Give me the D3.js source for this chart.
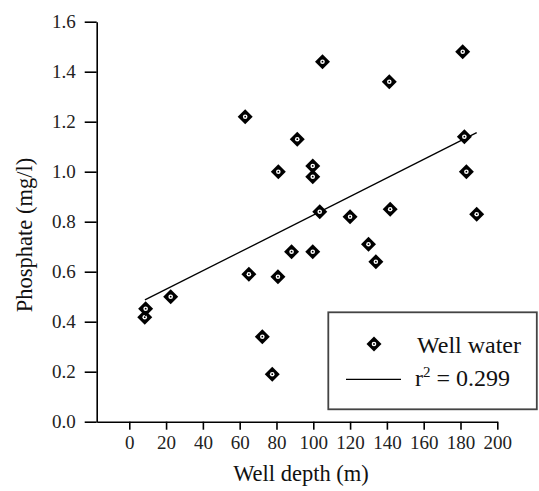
<!DOCTYPE html>
<html>
<head>
<meta charset="utf-8">
<script src="https://cdn.jsdelivr.net/npm/d3@7"></script>
<style>
  body { margin: 0; background: #fff; }
  svg text { font-family: "Liberation Serif", "Times New Roman", Times, "DejaVu Serif", serif !important; }
  .axis path, .axis line { stroke: #000; stroke-width: 1.6; }
  .axis text { font-size: 19px; fill: #222; }
</style>
</head>
<body>
<div id="chart"></div>
<script>
// well depth (m) and phosphate (mg/l)
var depth = [8.4, 8.9, 22.5, 63, 65, 72.3, 77.7, 81, 80.8, 88.2, 91.3, 99.7, 99.7, 99.7, 103.5, 105, 120, 130, 134, 141.3, 141.8, 181.2, 182.1, 183.2, 188.8]
var phosphate = [0.418, 0.452, 0.50, 1.22, 0.59, 0.34, 0.19, 1.00, 0.58, 0.68, 1.13, 1.023, 0.98, 0.68, 0.84, 1.44, 0.82, 0.71, 0.64, 1.36, 0.85, 1.48, 1.14, 1.00, 0.83]

// fitted line end points
var fitX = [8.5, 188.8]
var fitY = [0.487, 1.156]

var xTicks = [0, 20, 40, 60, 80, 100, 120, 140, 160, 180, 200]
var yTicks = [0, 0.2, 0.4, 0.6, 0.8, 1.0, 1.2, 1.4, 1.6]

var seriesName = "Well water"
var fitLabel = "0.299"

var serif = "'Liberation Serif', 'Times New Roman', Times, 'DejaVu Serif', serif"

var width = 539,
  height = 491

var svg = d3.select("#chart").append("svg")
  .attr("width", width)
  .attr("height", height)
  .attr("font-family", serif)

var x = d3.scaleLinear().domain([-17.7, 200]).range([96.7, 497.3])
var y = d3.scaleLinear().domain([0, 1.6]).range([421.7, 21.7])

// axes
svg.append("g")
  .attr("class", "axis")
  .attr("transform", "translate(0," + y(0) + ")")
  .call(d3.axisBottom(x).tickValues(xTicks).tickSize(8).tickSizeOuter(0).tickPadding(6).tickFormat(d3.format("d")))
  .attr("font-family", serif)

svg.append("g")
  .attr("class", "axis")
  .attr("transform", "translate(" + x.range()[0] + ",0)")
  .call(d3.axisLeft(y).tickValues(yTicks).tickSize(12).tickSizeOuter(0).tickPadding(9).tickFormat(d3.format(".1f")))
  .attr("font-family", serif)

// axis titles
svg.append("text")
  .attr("x", 301)
  .attr("y", 481)
  .attr("text-anchor", "middle")
  .style("font-size", "22.5px")
  .attr("fill", "#111")
  .text("Well depth (m)")

svg.append("text")
  .attr("transform", "translate(32,235) rotate(-90)")
  .attr("text-anchor", "middle")
  .style("font-size", "22.5px")
  .attr("fill", "#111")
  .text("Phosphate (mg/l)")

// regression line
svg.append("line")
  .attr("x1", x(fitX[0])).attr("y1", y(fitY[0]))
  .attr("x2", x(fitX[1])).attr("y2", y(fitY[1]))
  .attr("stroke", "#000")
  .attr("stroke-width", 1.3)

// marker = black diamond with white ring and dot
function marker(g) {
  g.append("path")
    .attr("d", "M0,-7.5L7.5,0L0,7.5L-7.5,0Z")
    .attr("fill", "#000")
  g.append("circle").attr("r", 2.3).attr("fill", "#fff")
  g.append("circle").attr("r", 0.9).attr("fill", "#000")
}

var points = svg.append("g")
  .selectAll("g")
  .data(depth.map(function(d, i) { return [d, phosphate[i]] }))
  .enter().append("g")
  .attr("transform", function(d) { return "translate(" + x(d[0]) + "," + y(d[1]) + ")" })

points.each(function() { marker(d3.select(this)) })

// legend
var legend = svg.append("g")

legend.append("rect")
  .attr("x", 328.3).attr("y", 312.3)
  .attr("width", 208.5).attr("height", 97)
  .attr("fill", "#fff")
  .attr("stroke", "#444")
  .attr("stroke-width", 1.8)

marker(legend.append("g").attr("transform", "translate(374,344)"))

legend.append("text")
  .attr("x", 417).attr("y", 353)
  .style("font-size", "24px")
  .attr("fill", "#111")
  .text(seriesName)

legend.append("line")
  .attr("x1", 346).attr("x2", 401)
  .attr("y1", 379.3).attr("y2", 379.3)
  .attr("stroke", "#000").attr("stroke-width", 1.3)

var r2 = legend.append("text")
  .attr("x", 415).attr("y", 386)
  .style("font-size", "24px")
  .attr("fill", "#111")
r2.append("tspan").text("r")
r2.append("tspan").attr("dy", -9).style("font-size", "15px").text("2")
r2.append("tspan").attr("dy", 9).text(" = " + fitLabel)
</script>
</body>
</html>
